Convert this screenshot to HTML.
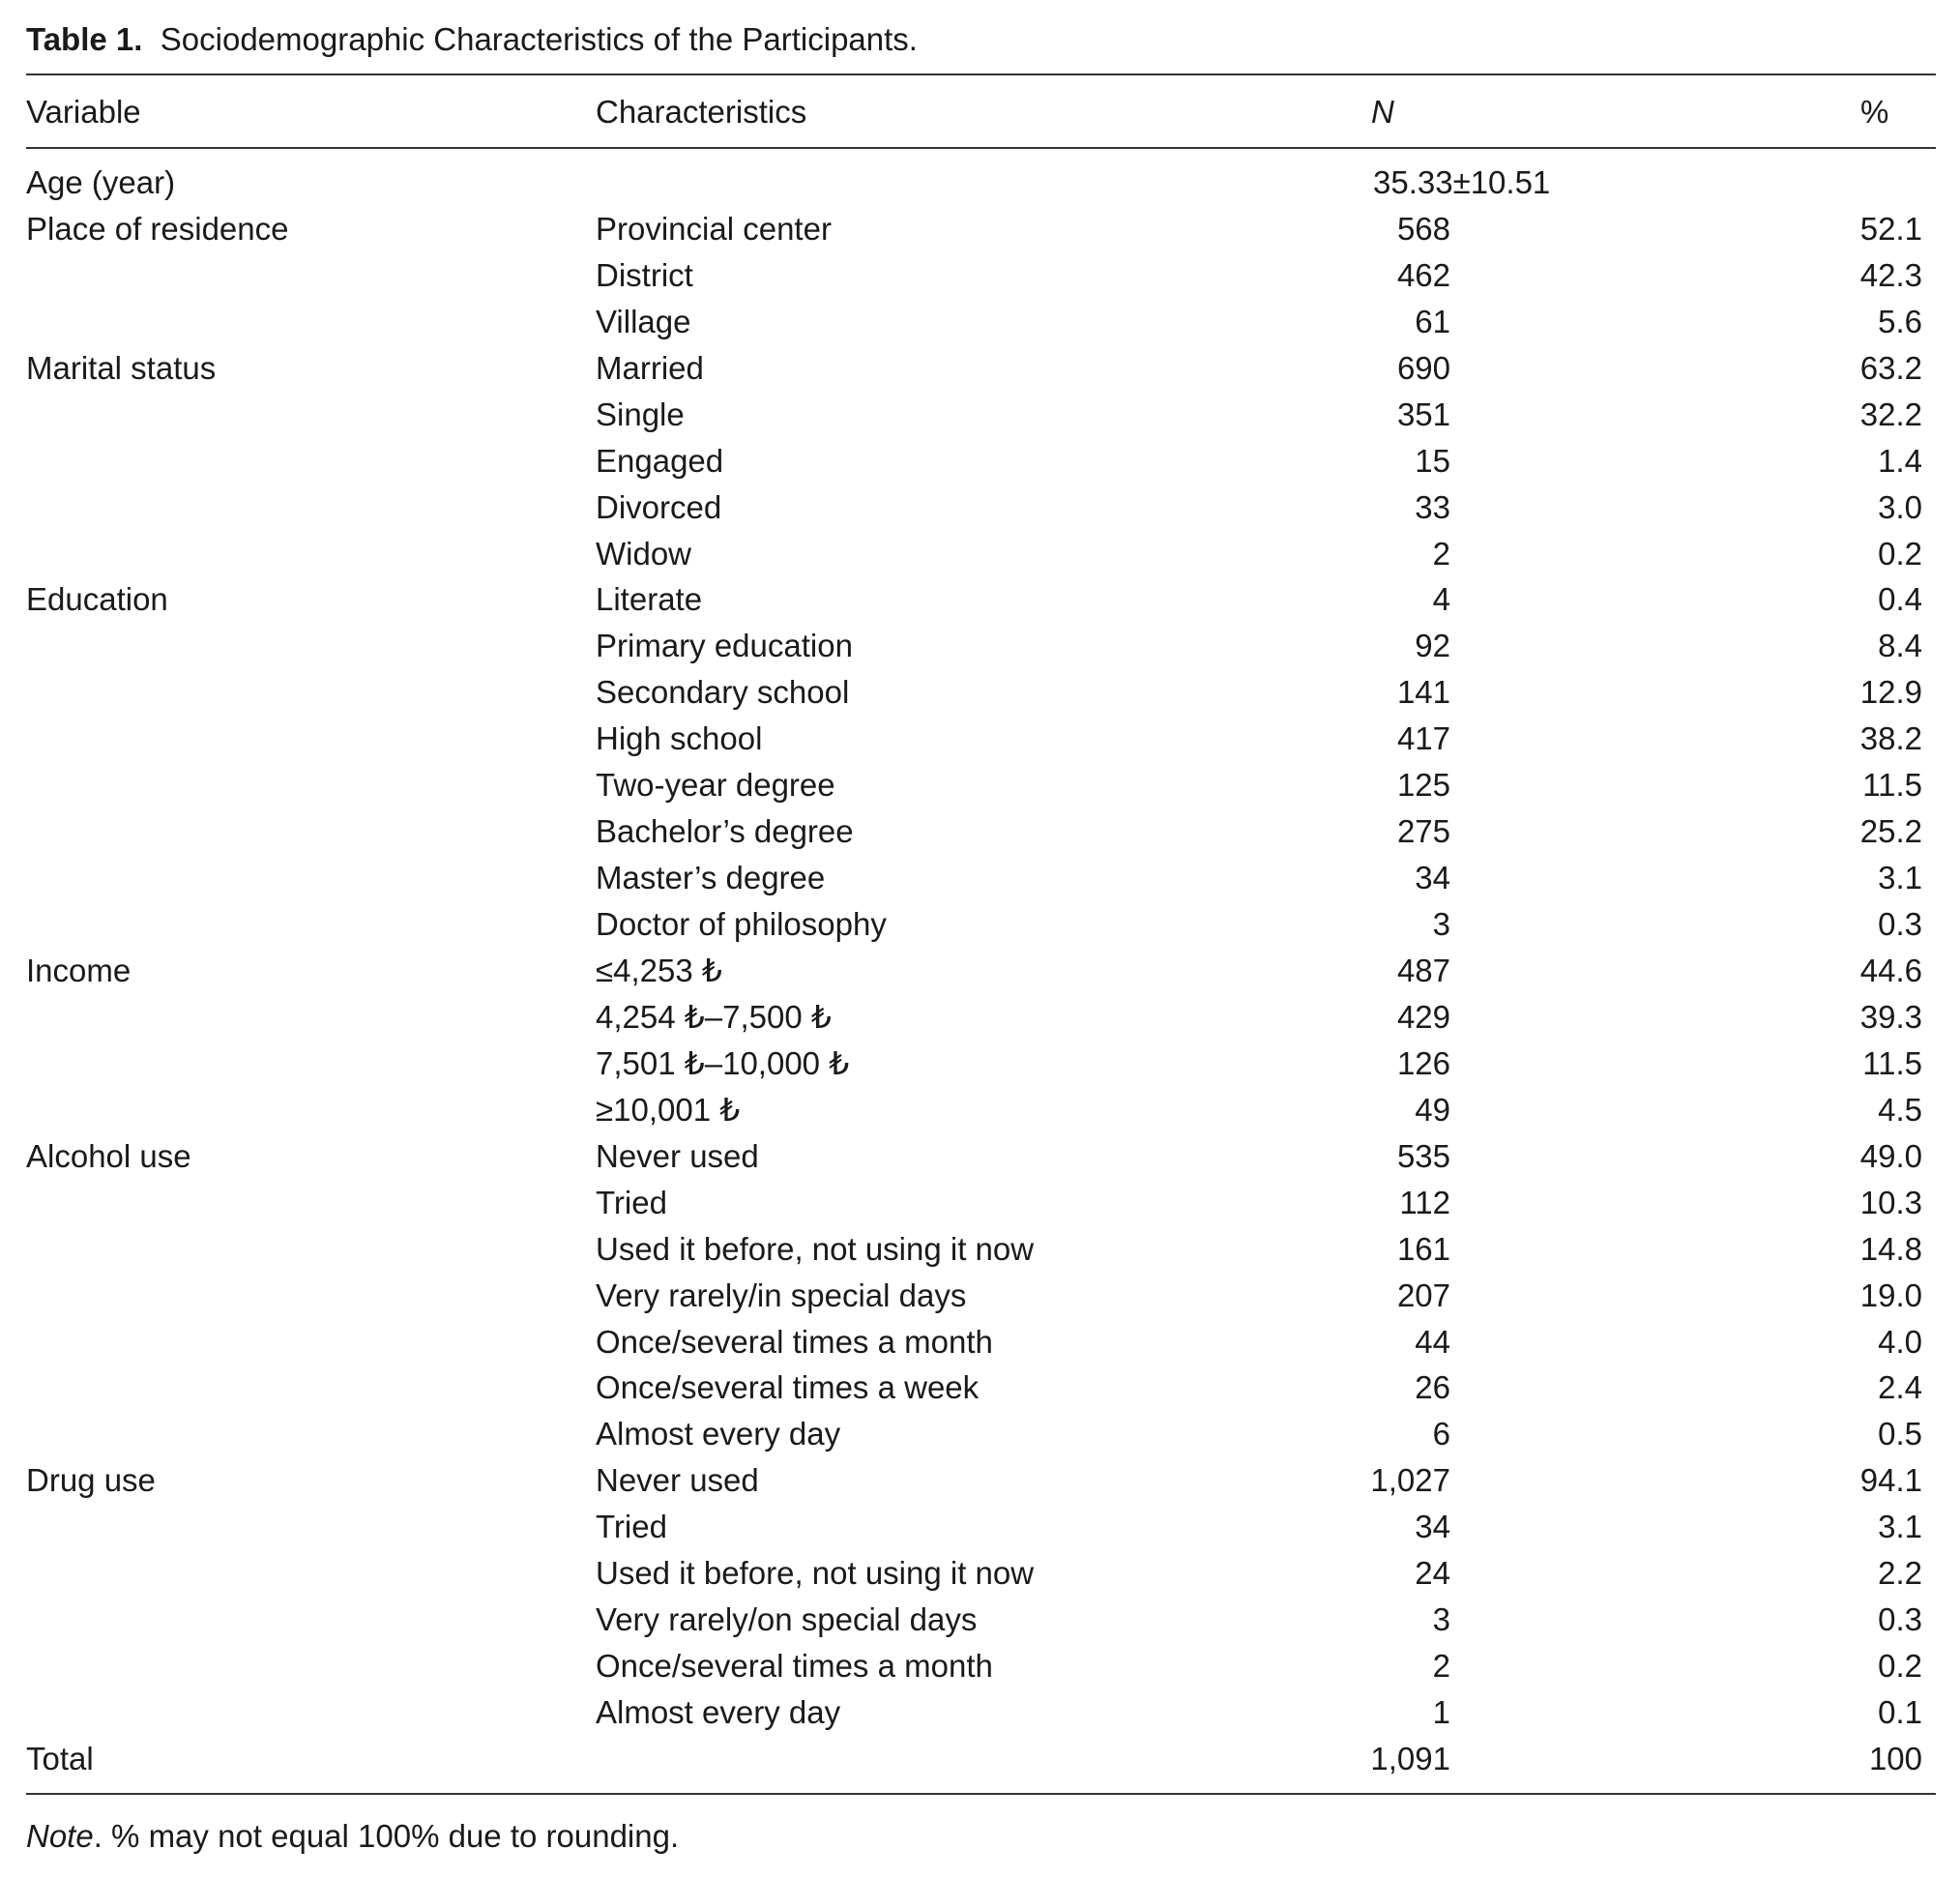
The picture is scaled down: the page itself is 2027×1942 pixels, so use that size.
<!DOCTYPE html>
<html><head><meta charset="utf-8"><style>
body{margin:0;background:#fff;width:2027px;height:1942px;position:relative;overflow:hidden;font-family:"Liberation Sans","DejaVu Sans",sans-serif;color:#1a1a1a;font-size:33px}
.t{position:absolute;line-height:32px;white-space:nowrap}
.r{position:absolute;left:27px;width:1975px;height:2px;background:#333}
.n{position:absolute;width:200px;text-align:right;line-height:32px}
</style></head><body>
<div class="t" style="left:27px;top:25px"><b>Table 1.</b>&nbsp; Sociodemographic Characteristics of the Participants.</div>
<div class="r" style="top:76px"></div>
<div class="t" style="left:27px;top:100px">Variable</div>
<div class="t" style="left:616px;top:100px">Characteristics</div>
<div class="t" style="left:1418px;top:100px"><i>N</i></div>
<div class="t" style="left:1924px;top:100px">%</div>
<div class="r" style="top:152px"></div>
<div id="rows"></div>
<div class="r" style="top:1854px"></div>
<div class="t" style="left:27px;top:1883px"><i>Note</i>. % may not equal 100% due to rounding.</div>
<script>
var rows=[
["Age (year)","","35.33±10.51",""],
["Place of residence","Provincial center","568","52.1"],
["","District","462","42.3"],
["","Village","61","5.6"],
["Marital status","Married","690","63.2"],
["","Single","351","32.2"],
["","Engaged","15","1.4"],
["","Divorced","33","3.0"],
["","Widow","2","0.2"],
["Education","Literate","4","0.4"],
["","Primary education","92","8.4"],
["","Secondary school","141","12.9"],
["","High school","417","38.2"],
["","Two-year degree","125","11.5"],
["","Bachelor’s degree","275","25.2"],
["","Master’s degree","34","3.1"],
["","Doctor of philosophy","3","0.3"],
["Income","≤4,253 ₺","487","44.6"],
["","4,254 ₺–7,500 ₺","429","39.3"],
["","7,501 ₺–10,000 ₺","126","11.5"],
["","≥10,001 ₺","49","4.5"],
["Alcohol use","Never used","535","49.0"],
["","Tried","112","10.3"],
["","Used it before, not using it now","161","14.8"],
["","Very rarely/in special days","207","19.0"],
["","Once/several times a month","44","4.0"],
["","Once/several times a week","26","2.4"],
["","Almost every day","6","0.5"],
["Drug use","Never used","1,027","94.1"],
["","Tried","34","3.1"],
["","Used it before, not using it now","24","2.2"],
["","Very rarely/on special days","3","0.3"],
["","Once/several times a month","2","0.2"],
["","Almost every day","1","0.1"],
["Total","","1,091","100"]];
var h="";
rows.forEach(function(r,i){
 var top=Math.round(200+i*47.94-27);
 if(r[0])h+='<div class="t" style="left:27px;top:'+top+'px">'+r[0]+'</div>';
 if(r[1])h+='<div class="t" style="left:616px;top:'+top+'px">'+r[1]+'</div>';
 if(i==0)h+='<div class="t" style="left:1420px;top:'+top+'px">'+r[2]+'</div>';
 else h+='<div class="n" style="left:1300px;top:'+top+'px">'+r[2]+'</div>';
 if(r[3])h+='<div class="n" style="left:1788px;top:'+top+'px">'+r[3]+'</div>';
});
document.getElementById("rows").innerHTML=h;
</script>
</body></html>
